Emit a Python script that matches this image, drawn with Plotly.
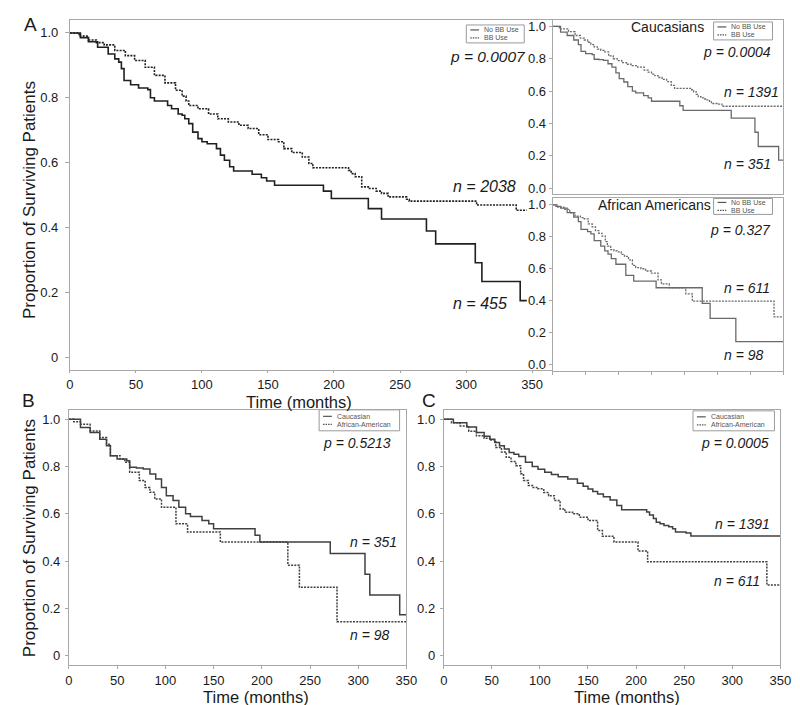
import plotly.graph_objects as go

# ---------------- data ----------------
# Panel A : all patients
a_nobb_t = [0, 8, 14, 21, 29, 34, 37, 39, 41, 46, 52, 59, 61, 64, 72, 74, 77, 82, 85, 87, 90, 93, 97, 100,
            104, 111, 114, 117, 121, 124, 138, 145, 149, 155, 192, 198, 226, 236, 270, 277, 307, 312, 341, 346]
a_nobb_s = [1.0, 0.985, 0.973, 0.956, 0.935, 0.92, 0.91, 0.89, 0.853, 0.84, 0.83, 0.825, 0.80, 0.79, 0.79,
            0.776, 0.766, 0.75, 0.746, 0.735, 0.72, 0.694, 0.674, 0.664, 0.658, 0.643, 0.623, 0.607, 0.587,
            0.574, 0.564, 0.553, 0.543, 0.530, 0.512, 0.489, 0.458, 0.426, 0.389, 0.349, 0.291, 0.233, 0.174, 0.174]
a_bb_t = [0, 7, 14, 20, 26, 34, 42, 49, 57, 64, 72, 80, 85, 88, 90, 97, 105, 112, 120, 128, 135, 143, 150,
          158, 162, 168, 176, 181, 184, 211, 213, 216, 221, 226, 232, 236, 241, 255, 257, 308, 338, 346]
a_bb_s = [1.0, 0.99, 0.978, 0.97, 0.963, 0.946, 0.93, 0.915, 0.894, 0.869, 0.846, 0.823, 0.805, 0.79, 0.776,
          0.766, 0.75, 0.735, 0.725, 0.715, 0.705, 0.686, 0.671, 0.664, 0.643, 0.631, 0.617, 0.597, 0.584,
          0.576, 0.566, 0.556, 0.525, 0.52, 0.512, 0.505, 0.494, 0.487, 0.481, 0.469, 0.453, 0.453]

# Caucasian, no BB use (n = 351)
cau_nobb_t = [0, 12, 22, 32, 39, 43, 50, 60, 63, 70, 77, 84, 90, 96, 101, 108, 114, 121, 126, 138, 145, 150,
              193, 198, 271, 307, 312, 343, 350]
cau_nobb_s = [1.0, 0.965, 0.944, 0.916, 0.888, 0.846, 0.832, 0.825, 0.797, 0.794, 0.79, 0.769, 0.748, 0.712,
              0.677, 0.656, 0.628, 0.60, 0.589, 0.572, 0.558, 0.537, 0.509, 0.481, 0.432, 0.345, 0.257, 0.173, 0.173]
# African-American, no BB use (n = 98)
aa_nobb_t = [0, 5, 12, 22, 32, 39, 43, 53, 58, 63, 73, 79, 84, 89, 96, 111, 123, 157, 227, 239, 278, 350]
aa_nobb_s = [1.0, 0.99, 0.979, 0.951, 0.923, 0.895, 0.846, 0.832, 0.818, 0.776, 0.741, 0.712, 0.691, 0.663,
             0.628, 0.558, 0.523, 0.481, 0.383, 0.289, 0.144, 0.144]
# Caucasian, BB use (n = 1391)
cau_bb_t = [0, 10, 24, 34, 42, 48, 53, 58, 63, 68, 73, 78, 85, 92, 98, 105, 112, 119, 129, 139, 145, 150, 155,
            160, 166, 173, 180, 185, 211, 214, 218, 221, 225, 229, 234, 238, 241, 252, 257, 350]
cau_bb_s = [1.0, 0.985, 0.968, 0.944, 0.928, 0.916, 0.902, 0.888, 0.874, 0.86, 0.852, 0.843, 0.818, 0.80,
            0.789, 0.776, 0.766, 0.757, 0.748, 0.729, 0.717, 0.705, 0.695, 0.684, 0.672, 0.659, 0.635, 0.617,
            0.608, 0.595, 0.58, 0.565, 0.558, 0.551, 0.545, 0.537, 0.523, 0.519, 0.506, 0.506]
# African-American, BB use (n = 611)
aa_bb_t = [0, 8, 17, 26, 34, 42, 48, 54, 60, 65, 70, 75, 80, 83, 88, 93, 98, 104, 109, 115, 121, 126, 134,
           141, 150, 160, 165, 177, 202, 212, 336, 350]
aa_bb_s = [1.0, 0.985, 0.972, 0.95, 0.93, 0.92, 0.912, 0.881, 0.862, 0.839, 0.822, 0.804, 0.77, 0.741, 0.72,
           0.712, 0.706, 0.69, 0.677, 0.656, 0.621, 0.607, 0.60, 0.586, 0.572, 0.53, 0.505, 0.481, 0.443,
           0.397, 0.299, 0.299]

x_ticks = [0, 50, 100, 150, 200, 250, 300, 350]
y_ticks = [0, 0.2, 0.4, 0.6, 0.8, 1.0]
y_text_main = ["0", "0.2", "0.4", "0.6", "0.8", "1.0"]
y_text_inset = ["0.0", "0.2", "0.4", "0.6", "0.8", "1.0"]

# ---------------- layout helpers ----------------
W, H = 800, 705
FONT = "Liberation Sans, Arial, Helvetica, sans-serif"
TXT = "#1a1a1a"
AX = "#a8a8a8"


def X(px):
    return px / W


def Y(py):
    return 1 - py / H


DOT = "2px,1.2px"
fig = go.Figure()


def curve(t, s, ax, color, width, dash):
    fig.add_trace(go.Scatter(x=t, y=s, mode="lines", xaxis="x" + ax, yaxis="y" + ax,
                             line=dict(shape="hv", color=color, width=width, dash=dash),
                             showlegend=False, hoverinfo="skip"))


# A (axis suffix "")
curve(a_nobb_t, a_nobb_s, "", "#202020", 1.6, "solid")
curve(a_bb_t, a_bb_s, "", "#202020", 1.6, DOT)
# Caucasians inset
curve(cau_nobb_t, cau_nobb_s, "2", "#6a6a6a", 1.3, "solid")
curve(cau_bb_t, cau_bb_s, "2", "#6a6a6a", 1.3, DOT)
# African Americans inset
curve(aa_nobb_t, aa_nobb_s, "3", "#6a6a6a", 1.3, "solid")
curve(aa_bb_t, aa_bb_s, "3", "#6a6a6a", 1.3, DOT)
# B : no BB use
curve(cau_nobb_t, cau_nobb_s, "4", "#404040", 1.5, "solid")
curve(aa_nobb_t, aa_nobb_s, "4", "#404040", 1.5, DOT)
# C : BB use
curve(cau_bb_t, cau_bb_s, "5", "#404040", 1.5, "solid")
curve(aa_bb_t, aa_bb_s, "5", "#404040", 1.5, DOT)


def xax(dom, rng, anchor, labels=True, ticks="outside", mirror=True, ticklen=3):
    return dict(domain=dom, range=rng, anchor=anchor, tickvals=x_ticks, showticklabels=labels,
                ticks=ticks, ticklen=ticklen, tickcolor=AX, showline=True, linecolor=AX, linewidth=1,
                mirror=mirror, showgrid=False, zeroline=False,
                tickfont=dict(size=13, color=TXT, family=FONT))


def yax(dom, anchor, text, standoff, ticklen=4, mirror=True, size=13):
    return dict(domain=dom, range=[-0.04, 1.04], anchor=anchor, tickvals=y_ticks, ticktext=text,
                ticks="outside", ticklen=ticklen, tickcolor=AX, ticklabelstandoff=standoff,
                showline=True, linecolor=AX, linewidth=1, mirror=mirror, showgrid=False, zeroline=False,
                tickfont=dict(size=size, color=TXT, family=FONT))


fig.update_layout(
    width=W, height=H, autosize=False, margin=dict(l=0, r=0, t=0, b=0),
    paper_bgcolor="white", plot_bgcolor="white", showlegend=False,
    font=dict(family=FONT, color=TXT),
    xaxis=xax([X(59), X(551)], [0, 365.6], "y", ticklen=2),
    yaxis=yax([Y(362), Y(11)], "x", y_text_main, 4, mirror=False),
    xaxis2=xax([X(551), X(786)], [0, 350], "y2", labels=False, ticks=""),
    yaxis2=yax([Y(186), Y(11)], "x2", y_text_inset, 0, ticklen=3),
    xaxis3=xax([X(551), X(786)], [0, 350], "y3", labels=False),
    yaxis3=yax([Y(363), Y(190)], "x3", y_text_inset, 0, ticklen=3),
    xaxis4=xax([X(58), X(402)], [0, 350], "y4"),
    yaxis4=yax([Y(658), Y(402)], "x4", y_text_main, 2, ticklen=3),
    xaxis5=xax([X(440), X(783)], [0, 350], "y5"),
    yaxis5=yax([Y(658), Y(402)], "x5", y_text_main, 2, ticklen=3),
)

ann = []
shapes = []


def text(px, py, s, size, anchor="left", angle=0, color=TXT):
    ann.append(dict(x=X(px), y=Y(py), xref="paper", yref="paper", text=s, showarrow=False,
                    xanchor=anchor, yanchor="middle", textangle=angle,
                    font=dict(size=size, color=color, family=FONT)))


# panel letters
text(19, 16, "A", 19, "center")
text(17, 393, "B", 19, "center")
text(425, 393, "C", 19, "center")

# axis titles
text(18, 192, "Proportion of Surviving Patients", 17, "center", -90)
text(18, 531, "Proportion of Surviving Patients", 17, "center", -90)
text(292, 394, "Time (months)", 16.5, "center")
text(249, 690, "Time (months)", 16.5, "center")
text(627, 690, "Time (months)", 16.5, "center")

# inset titles
text(668, 18, "Caucasians", 14, "center")
text(655, 197, "African Americans", 14, "center")

# statistics
text(444, 48, "<i>p = 0.0007</i>", 15.5)
text(447, 178, "<i>n = 2038</i>", 16)
text(447, 295, "<i>n = 455</i>", 16)
text(776, 43, "<i>p = 0.0004</i>", 14, "right")
text(724, 83, "<i>n = 1391</i>", 14)
text(724, 155, "<i>n = 351</i>", 14)
text(776, 222, "<i>p = 0.327</i>", 14, "right")
text(724, 280, "<i>n = 611</i>", 14)
text(724, 347, "<i>n = 98</i>", 14)
text(388, 435, "<i>p = 0.5213</i>", 14, "right")
text(342, 535, "<i>n = 351</i>", 14)
text(342, 628, "<i>n = 98</i>", 14)
text(773, 435, "<i>p = 0.0005</i>", 14, "right")
text(714, 516, "<i>n = 1391</i>", 14)
text(713, 574, "<i>n = 611</i>", 14)


def legend(x0, y0, x1, y1, labels, rows, size):
    shapes.append(dict(type="rect", xref="paper", yref="paper", x0=X(x0), x1=X(x1), y0=Y(y1), y1=Y(y0),
                       line=dict(color="#9a9a9a", width=1), fillcolor="white"))
    for lab, ry, dash in zip(labels, rows, ["solid", "dot"]):
        shapes.append(dict(type="line", xref="paper", yref="paper", x0=X(x0 + 4), x1=X(x0 + 13),
                           y0=Y(ry), y1=Y(ry), line=dict(color="#555555", width=1.2,
                                                         dash="solid" if dash == "solid" else "1.5px,1px")))
        text(x0 + 16, ry, lab, size, "left", color="#555555")


legend(463, 16, 522, 34, ["No BB Use", "BB Use"], [21, 29], 7)
legend(715, 13, 775, 31, ["No BB Use", "BB Use"], [18, 26], 7)
legend(715, 190, 775, 206, ["No BB Use", "BB Use"], [194, 202], 7)
legend(313, 402, 395, 423, ["Caucasian", "African-American"], [408.5, 416.5], 7)
legend(694, 403, 777, 423, ["Caucasian", "African-American"], [409, 417], 7)

fig.update_layout(annotations=ann, shapes=shapes)
fig.write_html("out.html")
